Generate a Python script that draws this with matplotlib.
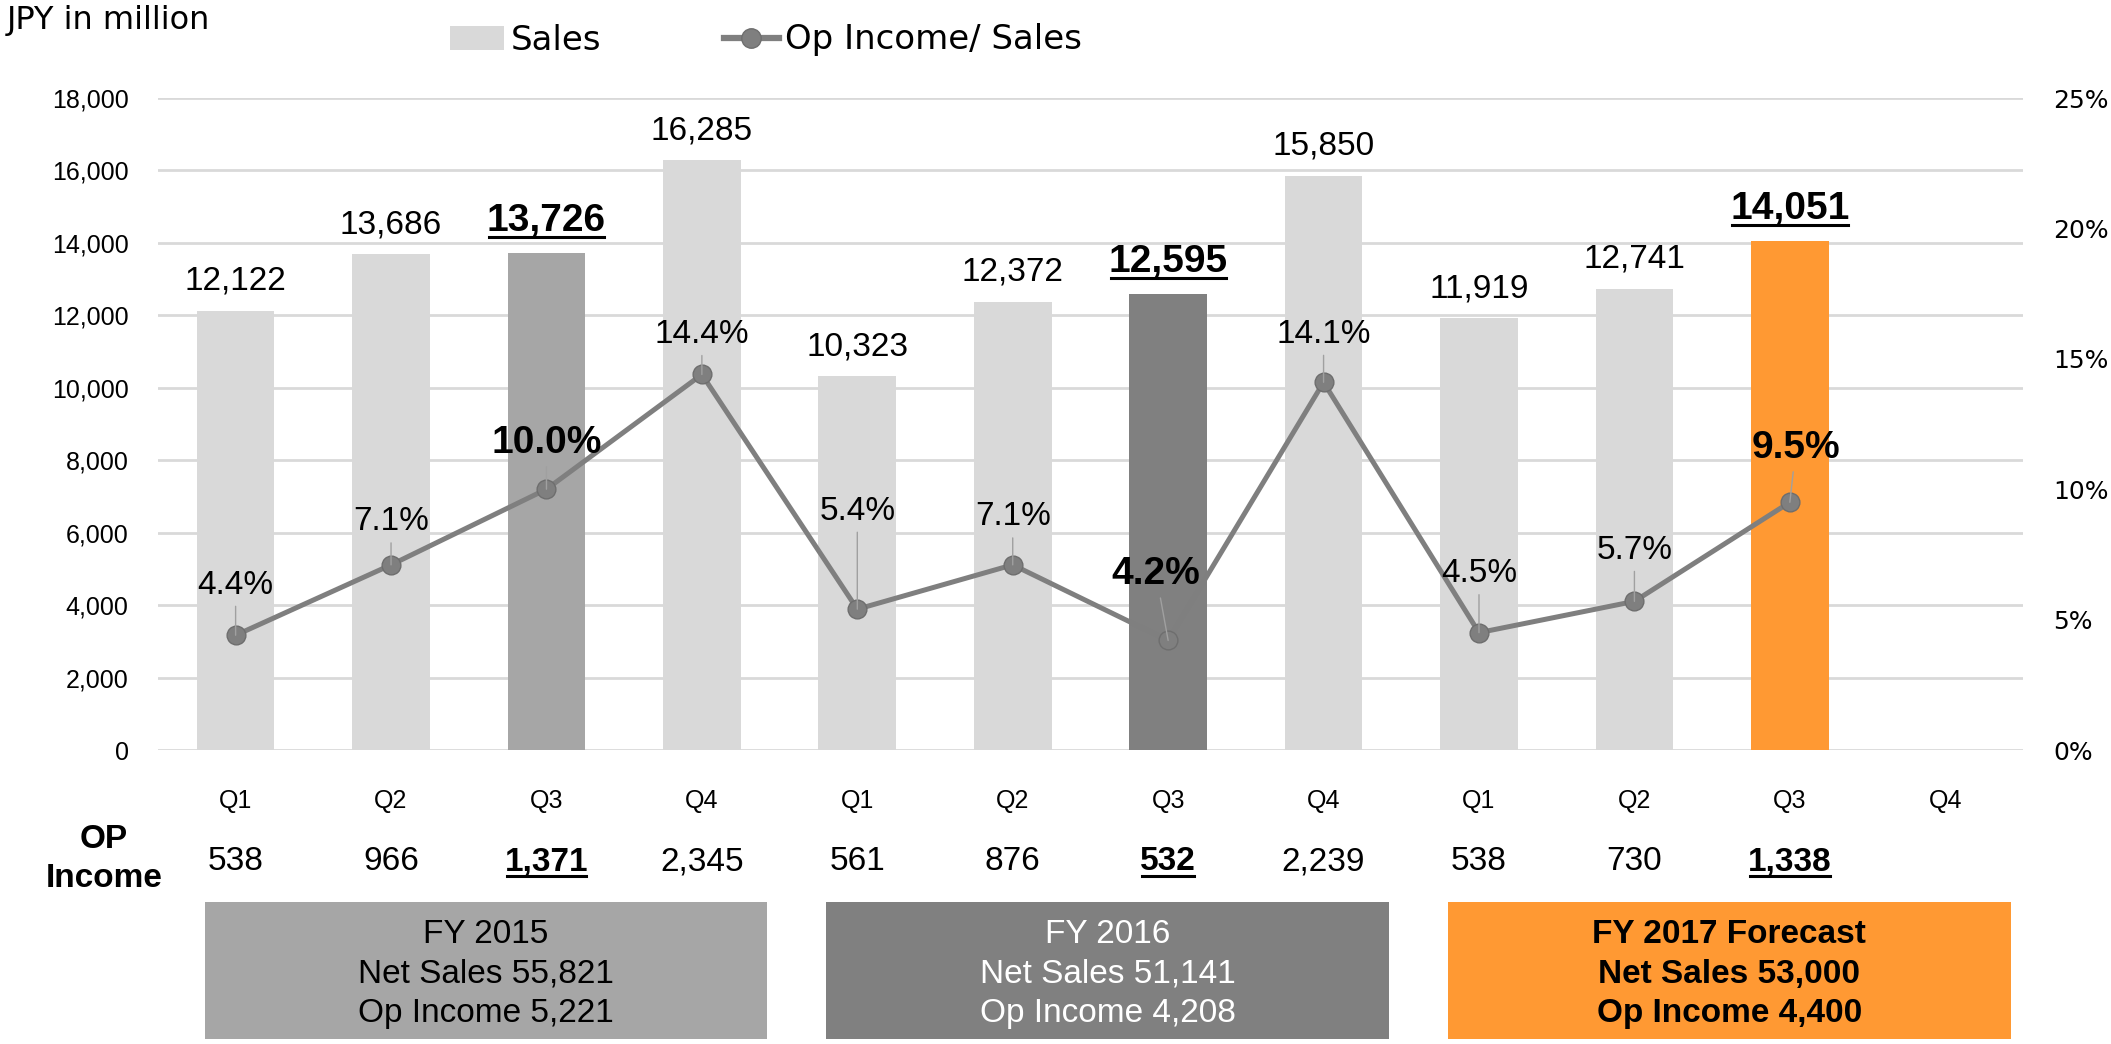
import numpy as np
import matplotlib.pyplot as plt
from matplotlib.lines import Line2D
from matplotlib.patches import Rectangle
from matplotlib.transforms import IdentityTransform, blended_transform_factory

# --------- data ---------
quarters = ['Q1', 'Q2', 'Q3', 'Q4'] * 3
sales = [12122, 13686, 13726, 16285, 10323, 12372, 12595, 15850, 11919, 12741, 14051]
op_margin = [4.4, 7.1, 10.0, 14.4, 5.4, 7.1, 4.2, 14.1, 4.5, 5.7, 9.5]
op_income = [538, 966, 1371, 2345, 561, 876, 532, 2239, 538, 730, 1338]
highlight = [2, 6, 10]

fy_titles = ['FY 2015', 'FY 2016', 'FY 2017 Forecast']
fy_net_sales = [55821, 51141, 53000]
fy_op_income = [5221, 4208, 4400]

# --------- style ---------
LIGHT = '#D9D9D9'
bar_colors = {2: '#A6A6A6', 6: '#808080', 10: '#FF9933'}
box_colors = ['#A6A6A6', '#808080', '#FF9933']
box_text = ['black', 'white', 'black']
box_weight = ['normal', 'normal', 'bold']
LINE = '#7F7F7F'
ARIAL = 'Liberation Sans'
VERD = 'DejaVu Sans'
# pixel offsets of the % labels from their markers
pct_dy = [50, 43, 46, 40, 98, 48, 66, 48, 59, 51, 54]
pct_dx = [0, 0, 0, 0, 0, 0, -12, 0, 0, 0, 6]

plt.rcParams['font.family'] = ARIAL

fig = plt.figure(figsize=(21.11, 10.44), dpi=100)
ax = fig.add_axes([0.0748, 0.2816, 0.8835, 0.6245])
ax2 = ax.twinx()

x = np.arange(len(quarters))
xs = x[:len(sales)]
colors = [bar_colors.get(i, LIGHT) for i in xs]
ax.bar(xs, sales, width=0.5, color=colors, zorder=2)

ax.set_xlim(-0.5, 11.5)
ax.set_ylim(0, 18000)
ax.set_yticks(np.arange(0, 18001, 2000))
ax.set_yticklabels([f'{v:,}' for v in range(0, 18001, 2000)], fontsize=18)
ax.set_xticks(x)
ax.set_xticklabels(quarters, fontsize=18)
ax.grid(axis='y', color=LIGHT, lw=2)
ax.set_axisbelow(True)
ax.tick_params(axis='y', length=0, pad=21)
ax.tick_params(axis='x', length=0, pad=28)
for s in ax.spines.values():
    s.set_visible(False)
for s in ax2.spines.values():
    s.set_visible(False)

ax2.set_ylim(0, 25)
ax2.set_yticks(np.arange(0, 26, 5))
ax2.set_yticklabels([f'{v}%' for v in range(0, 26, 5)], fontsize=18, family=VERD)
ax2.tick_params(axis='y', length=0, pad=22)

ax2.plot(xs, op_margin, color=LINE, lw=3.6, marker='o', ms=13.5,
         mfc=LINE, mec='#6E6E6E', mew=1, zorder=3)

underlined = []

# bar value labels
for i, v in zip(xs, sales):
    big = i in highlight
    t = ax.annotate(f'{v:,}', (i, v), xytext=(0, 14), textcoords='offset pixels',
                    ha='center', va='bottom', fontsize=28 if big else 24,
                    fontweight='bold' if big else 'normal')
    if big:
        underlined.append(t)

# percentage labels
for i, v in zip(xs, op_margin):
    big = i in highlight
    ax2.annotate(f'{v:.1f}%', (i, v), xytext=(pct_dx[i], pct_dy[i]), textcoords='offset pixels',
                 ha='center', va='center', fontsize=28 if big else 24,
                 fontweight='bold' if big else 'normal',
                 arrowprops=dict(arrowstyle='-', color='#A0A0A0', lw=1, shrinkA=2, shrinkB=0))

# OP income row
xt = blended_transform_factory(ax.transData, fig.transFigure)
fig.text(104 / 2111, 1 - 859 / 1044, 'OP\nIncome', ha='center', va='center',
         fontsize=24, fontweight='bold', linespacing=1.3)
for i, v in zip(xs, op_income):
    big = i in highlight
    t = fig.text(i, 1 - 862 / 1044, f'{v:,}', transform=xt, ha='center', va='center',
                 fontsize=24, fontweight='bold' if big else 'normal')
    if big:
        underlined.append(t)

# fiscal year boxes
for k in range(3):
    start = 4 * k
    x0 = start - 0.2
    x1 = start + 3.42
    r = Rectangle((x0, 1 - 1039 / 1044), x1 - x0, 137 / 1044, transform=xt,
                  facecolor=box_colors[k], edgecolor='none', clip_on=False)
    fig.add_artist(r)
    txt = f'{fy_titles[k]}\nNet Sales {fy_net_sales[k]:,}\nOp Income {fy_op_income[k]:,}'
    fig.text((x0 + x1) / 2, 1 - 974 / 1044, txt, transform=xt, ha='center', va='center',
             fontsize=24, color=box_text[k], fontweight=box_weight[k], linespacing=1.36)

# header and legend
fig.text(7 / 2111, 1 - 20 / 1044, 'JPY in million', ha='left', va='center', fontsize=23, family=VERD)
handles = [Rectangle((0, 0), 1, 1, facecolor=LIGHT, edgecolor='none'),
           Line2D([], [], color=LINE, lw=4.5, marker='o', ms=14, mfc=LINE, mec='#6E6E6E')]
fig.legend(handles, ['Sales', 'Op Income/ Sales'], loc='center', ncol=2,
           bbox_to_anchor=(766 / 2111, 1 - 40 / 1044), frameon=False,
           prop={'family': VERD, 'size': 24.5}, handlelength=1.6, handletextpad=0.2,
           columnspacing=3.6)

# underline the highlighted numbers
fig.canvas.draw()
for t in underlined:
    bb = t.get_window_extent()
    y = bb.y0 + 2
    fig.add_artist(Line2D([bb.x0 + 2, bb.x1 - 2], [y, y], transform=IdentityTransform(),
                          color='black', lw=2.2))

fig.savefig('out.png', dpi=100)
